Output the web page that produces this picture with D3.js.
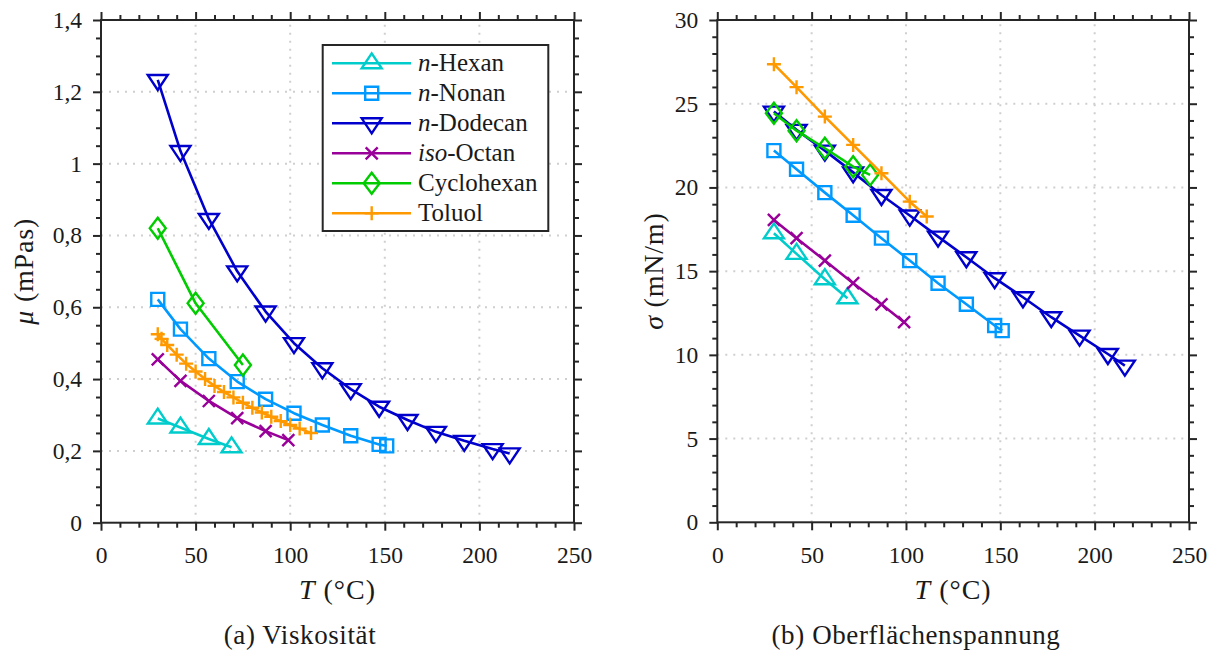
<!DOCTYPE html>
<html>
<head>
<meta charset="utf-8">
<script src="https://cdn.jsdelivr.net/npm/d3@7"></script>
<style>
  body { margin: 0; background: #fff; }
  svg { display: block; }
  text { font-family: "Liberation Serif", "DejaVu Serif", serif; fill: #1a1a1a; }
</style>
</head>
<body>
<svg id="chart" width="1218" height="659"></svg>
<script>
// ---- Stoffdaten: Temperatur (°C), Viskosität (mPas), Oberflächenspannung (mN/m) ----
const hexanT      = [30, 42, 57, 69];
const hexanMu     = [0.290, 0.265, 0.233, 0.210];
const hexanSigma  = [17.26, 16.03, 14.52, 13.38];

const nonanT      = [30, 42, 57, 72, 87, 102, 117, 132, 147, 151];
const nonanMu     = [0.622, 0.539, 0.457, 0.393, 0.344, 0.305, 0.272, 0.242, 0.218, 0.214];
const nonanSigma  = [22.20, 21.09, 19.69, 18.34, 16.97, 15.63, 14.28, 13.02, 11.75, 11.45];

const dodecanT     = [30, 42, 57, 72, 87, 102, 117, 132, 147, 162, 177, 192, 207, 216];
const dodecanMu    = [1.233, 1.035, 0.846, 0.700, 0.588, 0.500, 0.430, 0.372, 0.323, 0.286, 0.253, 0.228, 0.205, 0.193];
const dodecanSigma = [24.53, 23.44, 22.20, 20.90, 19.55, 18.32, 17.06, 15.83, 14.58, 13.44, 12.25, 11.15, 10.05, 9.36];

const isoOctanT     = [30, 42, 57, 72, 87, 99];
const isoOctanMu    = [0.455, 0.395, 0.339, 0.291, 0.255, 0.230];
const isoOctanSigma = [18.06, 16.97, 15.63, 14.28, 13.02, 11.95];

const cyclohexanMuT    = [30, 50, 75];
const cyclohexanMu     = [0.820, 0.611, 0.439];
const cyclohexanSigmaT = [30, 42, 57, 72, 81];
const cyclohexanSigma  = [24.43, 23.39, 22.34, 21.24, 20.75];

const toluolMuT    = [30, 32, 35, 40, 45, 50, 55, 60, 65, 70, 75, 80, 85, 90, 95, 100, 105, 111];
const toluolMu     = [0.525, 0.512, 0.495, 0.468, 0.443, 0.421, 0.400, 0.381, 0.364, 0.349, 0.334, 0.320, 0.307, 0.295, 0.283, 0.272, 0.262, 0.250];
const toluolSigmaT = [30, 42, 57, 72, 87, 102, 111];
const toluolSigma  = [27.36, 25.99, 24.23, 22.54, 20.85, 19.15, 18.26];

// Legendentexte: [kursiver Teil, aufrechter Teil]
const legendLabels = [["n", "-Hexan"], ["n", "-Nonan"], ["n", "-Dodecan"], ["iso", "-Octan"], ["", "Cyclohexan"], ["", "Toluol"]];
const seriesColors  = ["#00cccc", "#0099ff", "#0000cc", "#990099", "#00cc00", "#ff9900"];
const seriesMarkers = ["triUp", "square", "triDown", "cross", "diamond", "plus"];

// Achsenbeschriftungen
const xTicks      = [0, 50, 100, 150, 200, 250];
const muTicks     = [0, 0.2, 0.4, 0.6, 0.8, 1.0, 1.2, 1.4];
const sigmaTicks  = [0, 5, 10, 15, 20, 25, 30];

const svg = d3.select("#chart");
const axisColor = "#262626";
const serifFont = '"Liberation Serif", "DejaVu Serif", serif';

// Markerformen (zentriert auf den Datenpunkt)
function markerPath(type) {
  switch (type) {
    case "triUp":   { const w = 10, h = 15; return `M0,${-2*h/3}L${w},${h/3}L${-w},${h/3}Z`; }
    case "triDown": { const w = 10, h = 15; return `M0,${2*h/3}L${w},${-h/3}L${-w},${-h/3}Z`; }
    case "square":  { const s = 6.5; return `M${-s},${-s}H${s}V${s}H${-s}Z`; }
    case "diamond": { const w = 8, h = 10.5; return `M0,${-h}L${w},0L0,${h}L${-w},0Z`; }
    case "cross":   { const s = 6; return `M${-s},${-s}L${s},${s}M${-s},${s}L${s},${-s}`; }
    case "plus":    { const s = 7; return `M${-s},0H${s}M0,${-s}V${s}`; }
  }
}

function fmtComma(d) {
  return String(+d.toFixed(1)).replace(".", ",");
}

function drawPanel(cfg) {
  const x = d3.scaleLinear().domain([0, 250]).range([cfg.left, cfg.right]);
  const y = d3.scaleLinear().domain(cfg.yDomain).range([cfg.bottom, cfg.top]);
  const g = svg.append("g");

  // Gitterlinien (gepunktet)
  const grid = g.append("g").attr("stroke", "#cfcfcf").attr("stroke-width", 2)
    .attr("stroke-dasharray", "2,6").attr("fill", "none");
  xTicks.slice(1, -1).forEach(v => grid.append("line")
    .attr("x1", x(v)).attr("x2", x(v)).attr("y1", cfg.bottom).attr("y2", cfg.top));
  cfg.yTicks.slice(1, -1).forEach(v => grid.append("line")
    .attr("x1", cfg.left).attr("x2", cfg.right).attr("y1", y(v)).attr("y2", y(v)));

  // Messreihen
  const line = d3.line().x(d => x(d[0])).y(d => y(d[1]));
  cfg.series.forEach((s, i) => {
    const pts = s.t.map((t, k) => [t, s.v[k]]);
    g.append("path").datum(pts).attr("d", line)
      .attr("fill", "none").attr("stroke", seriesColors[i]).attr("stroke-width", 2.6)
      .attr("stroke-linejoin", "round");
    g.append("g").selectAll("path").data(pts).join("path")
      .attr("transform", d => `translate(${x(d[0])},${y(d[1])})`)
      .attr("d", markerPath(seriesMarkers[i]))
      .attr("fill", "none").attr("stroke", seriesColors[i]).attr("stroke-width", 2.4)
      .attr("stroke-linejoin", "miter");
  });

  // Achsen mit Haupt- und Nebenstrichen
  const styleAxis = sel => {
    sel.attr("font-family", null);
    sel.select(".domain").remove();
    sel.selectAll(".tick line").attr("stroke", axisColor).attr("stroke-width", 2);
    sel.selectAll(".tick text").attr("font-size", 23.5).attr("fill", "#1a1a1a")
      .style("font-family", serifFont);
  };
  const xMinor = d3.range(0, 251, 10).filter(v => v % 50 !== 0);
  const yMinor = d3.range(cfg.yDomain[0], cfg.yDomain[1] + cfg.minorStep / 2, cfg.minorStep)
    .filter(v => !cfg.yTicks.some(t => Math.abs(t - v) < 1e-9));

  const axisDefs = [
    { make: () => d3.axisBottom(x), tr: `translate(0,${cfg.bottom})`, major: xTicks, minor: xMinor, fmt: d => d, pad: 16 },
    { make: () => d3.axisTop(x),    tr: `translate(0,${cfg.top})`,    major: xTicks, minor: xMinor, fmt: null, pad: 0 },
    { make: () => d3.axisLeft(y),   tr: `translate(${cfg.left},0)`,   major: cfg.yTicks, minor: yMinor, fmt: cfg.yFormat, pad: 11 },
    { make: () => d3.axisRight(y),  tr: `translate(${cfg.right},0)`,  major: cfg.yTicks, minor: yMinor, fmt: null, pad: 0 }
  ];
  axisDefs.forEach(a => {
    g.append("g").attr("transform", a.tr)
      .call(a.make().tickValues(a.major).tickSize(8).tickPadding(a.pad)
        .tickFormat(a.fmt ? a.fmt : () => ""))
      .call(styleAxis);
    g.append("g").attr("transform", a.tr)
      .call(a.make().tickValues(a.minor).tickSize(5).tickFormat(() => ""))
      .call(styleAxis);
  });

  g.append("rect").attr("x", cfg.left).attr("y", cfg.top)
    .attr("width", cfg.right - cfg.left).attr("height", cfg.bottom - cfg.top)
    .attr("fill", "none").attr("stroke", axisColor).attr("stroke-width", 2);

  // Achsentitel
  const xl = g.append("text").attr("x", (cfg.left + cfg.right) / 2).attr("y", 599)
    .attr("text-anchor", "middle").attr("font-size", 28).attr("letter-spacing", 1);
  xl.append("tspan").attr("font-style", "italic").text("T");
  xl.append("tspan").text(" (°C)");

  const yl = g.append("text")
    .attr("transform", `translate(${cfg.yLabelX},${(cfg.top + cfg.bottom) / 2}) rotate(-90)`)
    .attr("text-anchor", "middle").attr("font-size", 28).attr("letter-spacing", 0.8);
  yl.append("tspan").attr("font-style", "italic").text(cfg.yLabelSym);
  yl.append("tspan").text(cfg.yLabelUnit);

  svg.append("text").attr("x", cfg.captionX).attr("y", 644)
    .attr("text-anchor", "middle").attr("font-size", 27).attr("letter-spacing", 0.6)
    .text(cfg.caption);

  return { x, y, g };
}

drawPanel({
  left: 101, right: 574, top: 20, bottom: 522.7,
  yDomain: [0, 1.4], yTicks: muTicks, minorStep: 0.05, yFormat: fmtComma,
  yLabelX: 33, yLabelSym: "μ", yLabelUnit: " (mPas)",
  caption: "(a) Viskosität", captionX: 300,
  series: [
    { t: hexanT, v: hexanMu },
    { t: nonanT, v: nonanMu },
    { t: dodecanT, v: dodecanMu },
    { t: isoOctanT, v: isoOctanMu },
    { t: cyclohexanMuT, v: cyclohexanMu },
    { t: toluolMuT, v: toluolMu }
  ]
});

drawPanel({
  left: 717.3, right: 1189, top: 20, bottom: 522.3,
  yDomain: [0, 30], yTicks: sigmaTicks, minorStep: 1, yFormat: d => String(d),
  yLabelX: 663, yLabelSym: "σ", yLabelUnit: " (mN/m)",
  caption: "(b) Oberflächenspannung", captionX: 916,
  series: [
    { t: hexanT, v: hexanSigma },
    { t: nonanT, v: nonanSigma },
    { t: dodecanT, v: dodecanSigma },
    { t: isoOctanT, v: isoOctanSigma },
    { t: cyclohexanSigmaT, v: cyclohexanSigma },
    { t: toluolSigmaT, v: toluolSigma }
  ]
});

// Legende im linken Diagramm
const lg = svg.append("g");
lg.append("rect").attr("x", 322.7).attr("y", 45).attr("width", 225.6).attr("height", 186)
  .attr("fill", "#fff").attr("stroke", axisColor).attr("stroke-width", 2);
legendLabels.forEach((lab, i) => {
  const ry = 63.3 + i * 30;
  lg.append("line").attr("x1", 332).attr("x2", 411).attr("y1", ry).attr("y2", ry)
    .attr("stroke", seriesColors[i]).attr("stroke-width", 2.6);
  lg.append("path").attr("transform", `translate(371.7,${ry})`)
    .attr("d", markerPath(seriesMarkers[i]))
    .attr("fill", "none").attr("stroke", seriesColors[i]).attr("stroke-width", 2.4);
  const t = lg.append("text").attr("x", 418).attr("y", ry + 8).attr("font-size", 25);
  if (lab[0]) t.append("tspan").attr("font-style", "italic").text(lab[0]);
  t.append("tspan").text(lab[1]);
});

// Einheitliche Schrift für alle Texte
svg.selectAll("text").style("font-family", serifFont);
</script>
</body>
</html>
